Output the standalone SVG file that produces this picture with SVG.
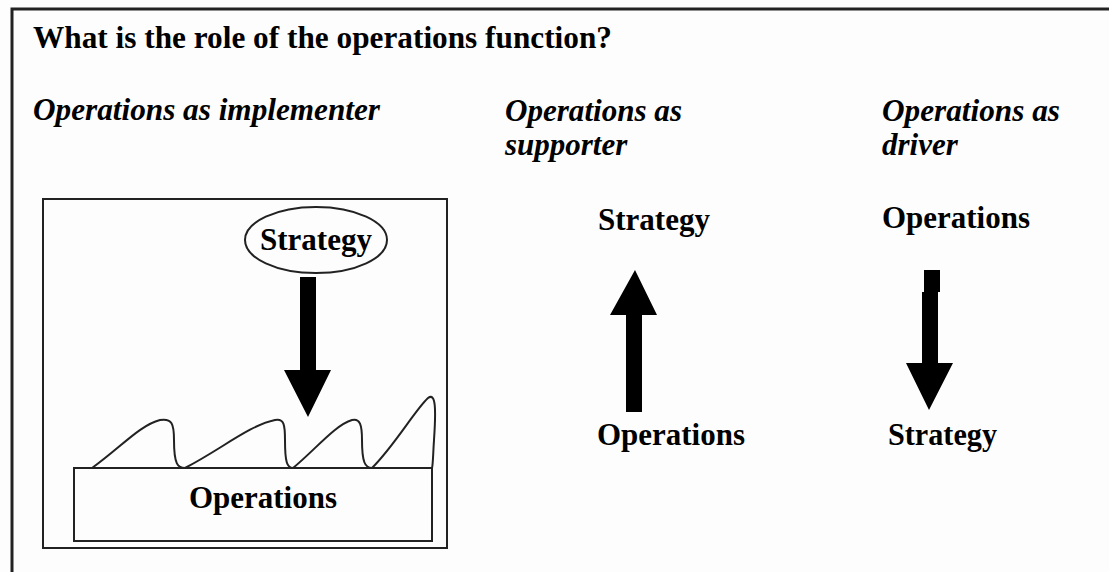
<svg xmlns="http://www.w3.org/2000/svg" width="1109" height="572" viewBox="0 0 1109 572">
<style>
text{font-family:"Liberation Serif","Times New Roman",serif;font-weight:bold;font-size:31px;fill:#000}
.it{font-style:italic}
.ln{fill:none;stroke:#222;stroke-width:2}
.ar{fill:#000;stroke:none}
</style>
<rect width="1109" height="572" fill="#fdfdfd"/>
<path d="M12 572 V9 H1109" fill="none" stroke="#222" stroke-width="3"/>
<text x="33" y="48" textLength="579" lengthAdjust="spacingAndGlyphs">What is the role of the operations function?</text>
<text class="it" x="33" y="120" textLength="347" lengthAdjust="spacingAndGlyphs">Operations as implementer</text>
<text class="it" x="505" y="121" textLength="177" lengthAdjust="spacingAndGlyphs">Operations as</text>
<text class="it" x="505" y="155">supporter</text>
<text class="it" x="882" y="121" textLength="178" lengthAdjust="spacingAndGlyphs">Operations as</text>
<text class="it" x="882" y="155">driver</text>
<g id="implementer">
<rect class="ln" x="43" y="199" width="404" height="349"/>
<g id="impl-strategy">
<ellipse class="ln" cx="316" cy="240" rx="71" ry="33"/>
<text x="260" y="250" textLength="112" lengthAdjust="spacingAndGlyphs">Strategy</text>
</g>
<g id="impl-operations">
<rect class="ln" x="74" y="468" width="358" height="73"/>
<text x="189" y="508" textLength="148" lengthAdjust="spacingAndGlyphs">Operations</text>
</g>
<path class="ln" d="M92 468 C120 448 140 425 160 420 C172 418 174 424 174 440 C174 465 178 468 185 468 C220 450 250 425 275 420 C284 418 285 425 285 440 C285 462 287 468 293 468 C315 450 335 425 352 420 C360 418 362 425 362 440 C362 462 365 468 372 468 C395 445 415 410 428 398 C436 392 436 410 434 440 C433 455 433 465 432 468"/>
</g>
<g id="supporter">
<text id="sup-strategy" x="598" y="230" textLength="112" lengthAdjust="spacingAndGlyphs">Strategy</text>
<text id="sup-operations" x="597" y="445" textLength="148" lengthAdjust="spacingAndGlyphs">Operations</text>
</g>
<g id="driver">
<text id="drv-operations" x="882" y="228" textLength="148" lengthAdjust="spacingAndGlyphs">Operations</text>
<text id="drv-strategy" x="888" y="445" textLength="109" lengthAdjust="spacingAndGlyphs">Strategy</text>
</g>
<g id="connectors">
<path class="ar" d="M300 277 H316 V370 H331 L308 417 L284 370 H300 Z"/>
<path class="ar" d="M626 412 V315 H610 L635 270 L657 315 H642 V412 Z"/>
<path class="ar" d="M924 270 H940 V292 H938 V363 H953 L929 410 L906 363 H922 V292 H924 Z"/>
</g>
</svg>
